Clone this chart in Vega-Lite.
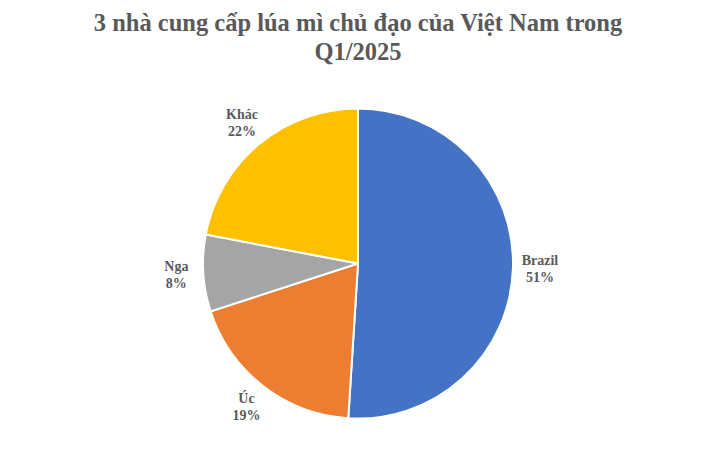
{
  "$schema": "https://vega.github.io/schema/vega-lite/v6.json",
  "width": 716,
  "height": 457,
  "autosize": {"type": "fit", "contains": "padding"},
  "padding": {"top": 10, "left": 0, "right": 0, "bottom": 0},
  "background": "white",
  "title": {
    "text": ["3 nhà cung cấp lúa mì chủ đạo của Việt Nam trong", "Q1/2025"],
    "font": "Liberation Serif",
    "fontSize": 24.5,
    "fontWeight": "bold",
    "color": "#595959",
    "lineHeight": 29,
    "anchor": "middle",
    "offset": 5
  },
  "data": {
    "values": [
      {"name": "Brazil", "share": 0.51},
      {"name": "Úc", "share": 0.19},
      {"name": "Nga", "share": 0.08},
      {"name": "Khác", "share": 0.22}
    ]
  },
  "transform": [{"window": [{"op": "row_number", "as": "rank"}]}],
  "encoding": {
    "theta": {"field": "share", "type": "quantitative", "stack": true},
    "order": {"field": "rank", "type": "quantitative"},
    "color": {
      "field": "name",
      "type": "nominal",
      "scale": {
        "domain": ["Brazil", "Úc", "Nga", "Khác"],
        "range": ["#4472C4", "#ED7D31", "#A5A5A5", "#FFC000"]
      },
      "legend": null
    }
  },
  "layer": [
    {
      "mark": {"type": "arc", "outerRadius": 155, "stroke": "white", "strokeWidth": 2}
    },
    {
      "mark": {
        "type": "text",
        "radius": 182,
        "dy": -8,
        "font": "Liberation Serif",
        "fontSize": 14,
        "fontWeight": "bold"
      },
      "encoding": {
        "text": {"field": "name", "type": "nominal"},
        "color": {"value": "#595959"}
      }
    },
    {
      "mark": {
        "type": "text",
        "radius": 182,
        "dy": 9,
        "font": "Liberation Serif",
        "fontSize": 14,
        "fontWeight": "bold"
      },
      "encoding": {
        "text": {"field": "share", "type": "quantitative", "format": ".0%"},
        "color": {"value": "#595959"}
      }
    }
  ],
  "config": {"view": {"stroke": null}}
}
